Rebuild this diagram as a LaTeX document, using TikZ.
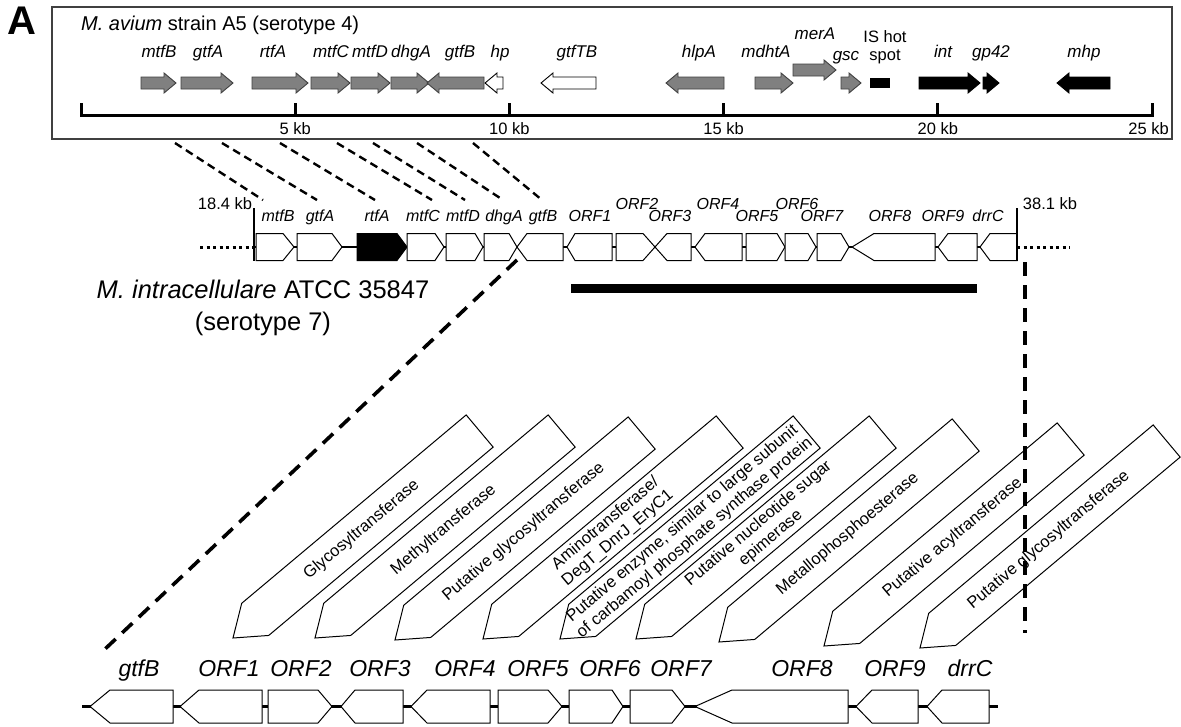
\documentclass[tikz,border=0pt]{standalone}
\usepackage{fontspec}
\setmainfont{Liberation Sans}
\usetikzlibrary{calc}
\definecolor{genegray}{RGB}{128,128,128}
\tikzset{
  panel/.style={draw=black!75, line width=1.2pt},
  ruler/.style={draw=black, line width=3pt},
  gry/.style={draw=black!75, line width=0.9pt, fill=genegray},
  wht/.style={draw=black, line width=0.9pt, fill=white},
  blk/.style={draw=black, line width=0.9pt, fill=black},
  gene/.style={draw=black, line width=1pt, fill=white},
  backbone/.style={draw=black, line width=2.6pt},
  dots/.style={draw=black, line width=3pt, dash pattern=on 3pt off 3.5pt},
  endbar/.style={draw=black, line width=2.6pt},
  link/.style={draw=black, line width=2.4pt, dash pattern=on 8pt off 5pt},
  biglink/.style={draw=black, line width=3.6pt, dash pattern=on 14pt off 9pt},
  annbox/.style={draw=black, line width=1pt, fill=white},
  anntext/.style={font=\fontsize{16.5}{19}\selectfont, align=center, inner sep=0pt, rotate=40},
  gname/.style={font=\fontsize{17}{19}\selectfont\itshape, inner sep=0pt, anchor=base},
  mname/.style={font=\fontsize{16}{18}\selectfont\itshape, inner sep=0pt, anchor=base},
  kb/.style={font=\fontsize{16.5}{18}\selectfont, inner sep=0pt, anchor=base},
  bigname/.style={font=\fontsize{23}{26}\selectfont\itshape, inner sep=0pt, anchor=base}
}
% block arrows of the top map
\newcommand\arrR[4][gry]{%
  \draw[#1] (#2,#4-6) -- (#3-12,#4-6) -- (#3-12,#4-10) -- (#3,#4)
    -- (#3-12,#4+10) -- (#3-12,#4+6) -- (#2,#4+6) -- cycle;}
\newcommand\arrL[4][gry]{%
  \draw[#1] (#2,#4) -- (#2+12,#4-10) -- (#2+12,#4-6) -- (#3,#4-6)
    -- (#3,#4+6) -- (#2+12,#4+6) -- (#2+12,#4+10) -- cycle;}
% gene boxes of the cluster rows
\newcommand\geneR[4][]{%
  \draw[gene,#1] (#2,\rowy-\rowh) -- (#3-#4,\rowy-\rowh) -- (#3,\rowy)
    -- (#3-#4,\rowy+\rowh) -- (#2,\rowy+\rowh) -- cycle;}
\newcommand\geneL[4][]{%
  \draw[gene,#1] (#2,\rowy) -- (#2+#4,\rowy-\rowh) -- (#3,\rowy-\rowh)
    -- (#3,\rowy+\rowh) -- (#2+#4,\rowy+\rowh) -- cycle;}
% tilted function boxes
\newcommand\annot[4]{%
  \begin{scope}[shift={(#1,#2)}, rotate=40]
    \draw[annbox] (0,0) -- (29,-21) -- (322,-21) -- (322,21) -- (29,21) -- cycle;
    \node[anntext] (#3) at (168,0) {#4};
  \end{scope}}

\begin{document}
\begin{tikzpicture}[x=1pt, y=-1pt]
  \useasboundingbox (0,0) rectangle (1181,726);
  \fill[white] (0,0) rectangle (1181,726);

  % top map
  \node[font=\fontsize{40}{42}\selectfont\bfseries, inner sep=0pt] (panelA) at (22,21) {A};
  \draw[panel] (52,7) rectangle (1172,139);
  \node[anchor=west, font=\fontsize{20}{22}\selectfont, inner sep=0pt] (title) at (81,25)
    {\textit{M. avium} strain A5 (serotype 4)};
  \draw[ruler] (81,115) -- (1152,115);
  \foreach \k in {0,...,5}
    \draw[ruler] (81+214.2*\k,103) -- (81+214.2*\k,116.5);
  \foreach \k/\t in {1/5,2/10,3/15,4/20}
    \node[kb] (tick\k) at (81+214.2*\k,134) {\t\ kb};
  \node[kb, anchor=base east] (tick5) at (1169,134) {25 kb};

  \arrR{141}{176}{83}
  \arrR{181}{233}{83}
  \arrR{252}{308}{83}
  \arrR{311}{350}{83}
  \arrR{351}{390}{83}
  \arrR{391}{429}{83}
  \arrL{427}{484}{83}
  \arrL[wht]{485}{503}{83}
  \arrL[wht]{541}{596}{83}
  \arrL{666}{724}{83}
  \arrR{755}{793}{83}
  \arrR{793}{836}{70}
  \arrR{841}{861}{83}
  \fill (870,78) rectangle (890,88);
  \arrR[blk]{919}{980}{83}
  \arrR[blk]{983}{999}{83}
  \arrL[blk]{1057}{1110}{83}

  \foreach \x/\t [count=\i] in {159/mtfB,208/gtfA,273/rtfA,331/mtfC,370/mtfD,411/dhgA,
      460/gtfB,500/hp,577/gtfTB,699/hlpA,766/mdhtA,943/int,991/gp42,1084/mhp}
    \node[gname] (tg\i) at (\x,57.5) {\t};
  \node[gname] (tgmerA) at (815,39) {merA};
  \node[gname] (tggsc) at (846,60) {gsc};
  \node[kb, anchor=center, align=center] (tgIS) at (885,47) {IS hot\\spot};

  % links to the cluster
  \foreach \a/\b [count=\i] in {175/263,222/317,280/375,337/432,373/465,417/503,473/542} {
    \coordinate (lt\i) at (\a,143);
    \coordinate (lb\i) at (\b,200);
    \draw[link] (lt\i) -- (lb\i);
  }

  % M. intracellulare cluster
  \def\rowy{247}\def\rowh{13.5}
  \draw[dots] (200,247) -- (254,247);
  \draw[dots] (1017,247) -- (1070,247);
  \draw[backbone] (254,247) -- (1017,247);
  \geneR{256}{294}{11}
  \geneR{297}{342}{10}
  \geneR[fill=black]{357}{407}{10}
  \geneR{407}{444}{9}
  \geneR{446}{483}{8}
  \geneR{484}{517}{8}
  \geneL{517}{563}{10}
  \geneL{567}{612}{8}
  \geneR{616}{655}{12}
  \geneL{655}{691}{12}
  \geneL{695}{742}{10}
  \geneR{746}{785}{8}
  \geneR{785}{816}{8}
  \geneR{817}{849}{8}
  \geneL{852}{935}{22}
  \geneL{938}{977}{10}
  \geneL{980}{1017}{10}
  \draw[endbar] (254,208) -- (254,261);
  \draw[endbar] (1017,208) -- (1017,261);
  \node[kb] (kbL) at (225,209) {18.4 kb};
  \node[kb] (kbR) at (1050,209) {38.1 kb};
  \foreach \x/\y/\t [count=\i] in {278/221/mtfB,320/221/gtfA,377/221/rtfA,423/221/mtfC,
      463/221/mtfD,504/221/dhgA,543/221/gtfB,590/221/ORF1,637/209/ORF2,670/221/ORF3,
      718/209/ORF4,757/221/ORF5,797/209/ORF6,822/221/ORF7,890/221/ORF8,943/221/ORF9,988/221/drrC}
    \node[mname] (mg\i) at (\x,\y) {\t};

  \node[font=\fontsize{25.5}{32}\selectfont, align=center, inner sep=0pt] (strain) at (263,308)
    {\textit{M. intracellulare} ATCC 35847\\(serotype 7)};
  \draw[line width=9pt] (571,288) -- (977,288);

  % functions
  \annot{233}{638}{ann1}{Glycosyltransferase}
  \annot{315}{638}{ann2}{Methyltransferase}
  \annot{395}{640}{ann3}{Putative glycosyltransferase}
  \annot{483}{639}{ann4}{Aminotransferase/\\DegT\_DnrJ\_EryC1}
  \annot{560}{639}{ann5}{Putative enzyme, similar to large subunit\\of carbamoyl phosphate synthase protein}
  \annot{636}{639}{ann6}{Putative nucleotide sugar\\epimerase}
  \annot{719}{642}{ann7}{Metallophosphoesterase}
  \annot{824}{646}{ann8}{Putative acyltransferase}
  \annot{920}{648}{ann9}{Putative glycosyltransferase}

  % enlarged region
  \coordinate (dl1) at (517,260);
  \coordinate (dl2) at (104,650);
  \coordinate (dr1) at (1025,262);
  \coordinate (dr2) at (1025,633);
  \draw[biglink] (dl1) -- (dl2);
  \draw[biglink] (dr1) -- (dr2);

  \def\rowy{706.5}\def\rowh{16.5}
  \draw[backbone] (82,706.5) -- (998,706.5);
  \geneL{90}{173}{20}
  \geneL{180}{262}{19}
  \geneR{268}{332}{14}
  \geneL{341}{403}{14}
  \geneL{411}{490}{16}
  \geneR{498}{562}{14}
  \geneR{569}{623}{11}
  \geneR{630}{685}{13}
  \geneL{695}{848}{37}
  \geneL{856}{918}{16}
  \geneL{927}{989}{15}
  \foreach \x/\t [count=\i] in {139/gtfB,229/ORF1,301/ORF2,380/ORF3,465/ORF4,538/ORF5,
      610/ORF6,681/ORF7,802/ORF8,895/ORF9,970/drrC}
    \node[bigname] (bg\i) at (\x,676) {\t};
\end{tikzpicture}
\end{document}
